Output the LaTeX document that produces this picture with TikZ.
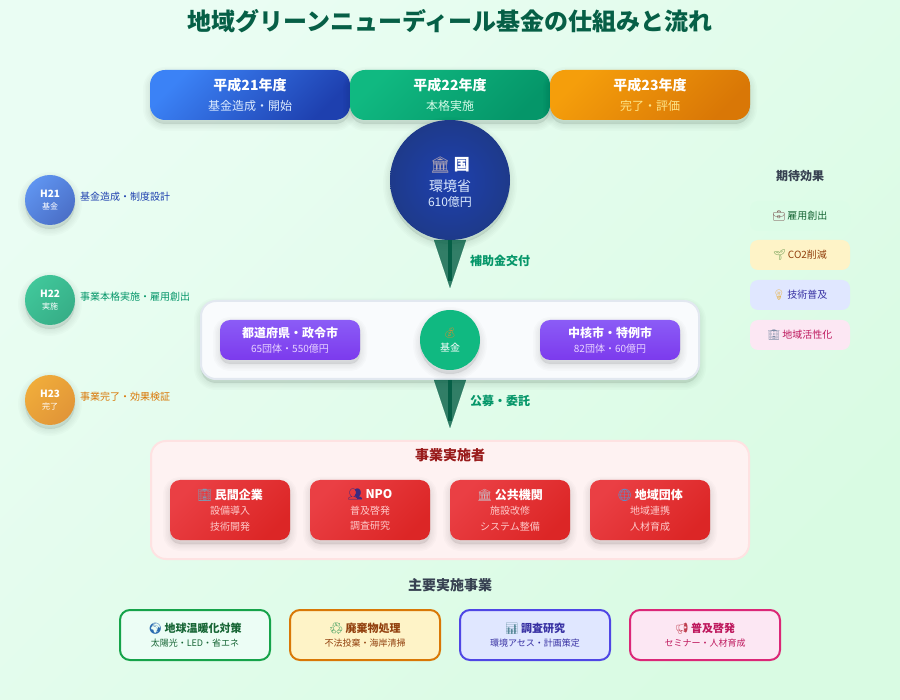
\documentclass[tikz,border=0pt]{standalone}
\usepackage{fontspec}
\usepackage{xcolor}
\usepackage{tikz}
\usetikzlibrary{positioning}
\usetikzlibrary{calc,arrows.meta}

\setmainfont{Noto Sans CJK JP}
\newfontfamily\emojifont{Noto Emoji}
\newcommand{\pxfont}[2]{\fontsize{#1}{#2}\selectfont}
\newcommand{\icon}[2]{{\emojifont\textcolor[HTML]{#1}{#2}}}

\definecolor{bgStart}{HTML}{EAFDF3}
\definecolor{bgEnd}{HTML}{D9FBE3}
\definecolor{titleGreen}{HTML}{065F46}
\definecolor{flowGreen}{HTML}{059669}
\definecolor{headGray}{HTML}{374151}
\definecolor{yearBlueA}{HTML}{3B82F6}
\definecolor{yearBlueB}{HTML}{1E40AF}
\definecolor{yearGreenA}{HTML}{10B981}
\definecolor{yearGreenB}{HTML}{059669}
\definecolor{yearOrangeA}{HTML}{F59E0B}
\definecolor{yearOrangeB}{HTML}{D97706}
\definecolor{kuniInner}{HTML}{1E40AF}
\definecolor{kuniOuter}{HTML}{1E3A8A}
\definecolor{panelEdge}{HTML}{E2E8F0}
\definecolor{panelFill}{HTML}{F9FBFD}
\definecolor{fundGreen}{HTML}{10B981}
\definecolor{cityTop}{HTML}{8B5CF6}
\definecolor{cityBottom}{HTML}{7C3AED}
\definecolor{actorLeft}{HTML}{EA3F44}
\definecolor{actorRight}{HTML}{DC2626}
\definecolor{actorText}{HTML}{FECACA}
\definecolor{actorEdge}{HTML}{FEE2E2}
\definecolor{actorPanel}{HTML}{FEF2F2}
\definecolor{actorTitle}{HTML}{991B1B}
\definecolor{greenEdge}{HTML}{16A34A}
\definecolor{cardGreen}{HTML}{ECFDF5}
\definecolor{cardGreenText}{HTML}{166534}
\definecolor{amberEdge}{HTML}{D97706}
\definecolor{cardAmber}{HTML}{FEF3C7}
\definecolor{cardAmberText}{HTML}{92400E}
\definecolor{indigoEdge}{HTML}{4F46E5}
\definecolor{cardIndigo}{HTML}{E0E7FF}
\definecolor{cardIndigoText}{HTML}{3730A3}
\definecolor{pinkEdge}{HTML}{DB2777}
\definecolor{cardPink}{HTML}{FCE7F3}
\definecolor{cardPinkText}{HTML}{BE185D}
\definecolor{effectGreen}{HTML}{DCFCE7}
\definecolor{dotBlueA}{HTML}{5F94F0}
\definecolor{dotBlueB}{HTML}{4B6FC7}
\definecolor{dotGreenA}{HTML}{40C79A}
\definecolor{dotGreenB}{HTML}{37AE87}
\definecolor{dotOrangeA}{HTML}{F0AC3A}
\definecolor{dotOrangeB}{HTML}{E19538}

\begin{document}
\begin{tikzpicture}[x=1pt,y=-1pt]
    % Define the styles
    \tikzset{shadowlayer/.style={preaction={draw=black, fill=black, opacity=0.015, line width=#1, transform canvas={yshift=-4pt}}}}
    \tikzset{softshadow/.style={shadowlayer=14pt, shadowlayer=11pt, shadowlayer=8pt, shadowlayer=5pt, shadowlayer=2pt}}
    \tikzset{yearbox/.style={softshadow, rounded corners=15pt, minimum width=200pt, minimum height=50pt, inner sep=0pt, align=center, text=white, font=\pxfont{12}{20}}}
    \tikzset{sidedot/.style={circle, softshadow, minimum size=50pt, inner sep=0pt, align=center, text=white, font=\pxfont{8}{12}}}
    \tikzset{sidetext/.style={anchor=west, inner sep=0pt, font=\pxfont{10}{12}}}
    \tikzset{cityboxstyle/.style={softshadow, rounded corners=10pt, minimum width=140pt, minimum height=40pt, inner sep=0pt, align=center, top color=cityTop, bottom color=cityBottom, text=white, font=\pxfont{10}{15}, execute at begin node={\rule{0pt}{15.5pt}}}}
    \tikzset{actorbox/.style={softshadow, rounded corners=10pt, minimum width=120pt, minimum height=60pt, inner sep=0pt, align=center, left color=actorLeft, right color=actorRight, shading angle=45, text=actorText, font=\pxfont{10}{15.5}}}
    \tikzset{workcard/.style={rounded corners=10pt, line width=2pt, minimum width=150pt, minimum height=50pt, inner sep=0pt, align=center, font=\pxfont{9}{14}}}
    \tikzset{effectbox/.style={rounded corners=8pt, minimum width=100pt, minimum height=30pt, inner sep=0pt, font=\pxfont{10}{12}}}
    \tikzset{flowtip/.style={-{Triangle[length=48pt, width=32pt]}, line width=0.1pt, draw=titleGreen, fill=titleGreen, opacity=0.8}}
    \tikzset{flowstem/.style={line width=4pt, draw=titleGreen, shorten >=7pt}}
    \tikzset{flowtext/.style={anchor=west, inner sep=0pt, text=flowGreen, font=\pxfont{12}{14}\bfseries}}
    \tikzset{headtext/.style={inner sep=0pt, text=headGray, font=\bfseries}}

    % Draw the background
    \shade[left color=bgStart, right color=bgEnd, shading angle=45] (0,0) rectangle (900,700);

    % Draw the title
    \node[inner sep=0pt, text=titleGreen, font=\pxfont{24}{28}\bfseries] (title) at (450,21) {地域グリーンニューディール基金の仕組みと流れ};

    % Draw the fiscal years
    \node[yearbox, left color=yearBlueA, right color=yearBlueB, shading angle=45] (h21year) at (250,95) {{\pxfont{14}{20}\bfseries 平成21年度}\\\textcolor[HTML]{DBEAFE}{基金造成・開始}};
    \node[yearbox, left color=yearGreenA, right color=yearGreenB, shading angle=45] (h22year) at (450,95) {{\pxfont{14}{20}\bfseries 平成22年度}\\\textcolor[HTML]{D1FAE5}{本格実施}};
    \node[yearbox, left color=yearOrangeA, right color=yearOrangeB, shading angle=45] (h23year) at (650,95) {{\pxfont{14}{20}\bfseries 平成23年度}\\\textcolor[HTML]{FDE68A}{完了・評価}};

    % Draw the ministry
    \node[circle, softshadow, minimum size=120pt, inner sep=0pt, inner color=kuniInner, outer color=kuniOuter] (kuni) at (450,180) {};
    \node[inner sep=0pt, align=center, text=white, font=\pxfont{12}{15}] (kunitext) at (450,182)
        {{\pxfont{16}{15}\bfseries\icon{B5A9B5}{🏛} 国}\\[6pt]{\pxfont{14}{15}\textcolor[HTML]{DBEAFE}{環境省}}\\\textcolor[HTML]{DBEAFE}{610億円}};

    % Draw the fund panel
    \node[softshadow, rounded corners=15pt, draw=panelEdge, line width=2pt, fill=panelFill, minimum width=498pt, minimum height=78pt, inner sep=0pt] (fundpanel) at (450,340) {};
    \node[cityboxstyle] (prefbox) at (290,340) {{\pxfont{12}{15}\bfseries 都道府県・政令市}\\\textcolor[HTML]{E9D5FF}{65団体・550億円}};
    \node[cityboxstyle] (citybox) at (610,340) {{\pxfont{12}{15}\bfseries 中核市・特例市}\\\textcolor[HTML]{E9D5FF}{82団体・60億円}};
    \node[circle, softshadow, minimum size=60pt, inner sep=0pt, align=center, fill=fundGreen, text=white, font=\pxfont{10}{15}] (fund) at (450,340) {\icon{E08A2E}{💰}\\基金};

    % Draw the flow arrows
    \coordinate (subsidyEnd) at (450,288);
    \coordinate (tenderEnd) at (450,428);
    \draw[flowtip] (kuni.south) -- (subsidyEnd);
    \draw[flowstem] (kuni.south) -- (subsidyEnd);
    \node[flowtext] (subsidylabel) at (470,261) {補助金交付};
    \draw[flowtip] (fundpanel.south) -- (tenderEnd);
    \draw[flowstem] (fundpanel.south) -- (tenderEnd);
    \node[flowtext] (tenderlabel) at (470,401) {公募・委託};

    % Draw the implementers
    \node[rounded corners=15pt, draw=actorEdge, line width=2pt, fill=actorPanel, minimum width=598pt, minimum height=118pt, inner sep=0pt] (actorpanel) at (450,500) {};
    \node[inner sep=0pt, text=actorTitle, font=\pxfont{14}{16}\bfseries] (actortitle) at (450,455) {事業実施者};
    \node[actorbox] (company) at (230,510) {{\pxfont{12}{15.5}\bfseries\textcolor{white}{\icon{7C9CB5}{🏢} 民間企業}}\\設備導入\\技術開発};
    \node[actorbox] (npo) at (370,510) {{\pxfont{12}{15.5}\bfseries\textcolor{white}{\icon{3B2A80}{👥} NPO}}\\普及啓発\\調査研究};
    \node[actorbox] (public) at (510,510) {{\pxfont{12}{15.5}\bfseries\textcolor{white}{\icon{C8BCC4}{🏛} 公共機関}}\\施設改修\\システム整備};
    \node[actorbox] (local) at (650,510) {{\pxfont{12}{15.5}\bfseries\textcolor{white}{\icon{4A9AE0}{🌐} 地域団体}}\\地域連携\\人材育成};

    % Draw the main projects
    \node[headtext, font=\pxfont{14}{16}\bfseries] (worktitle) at (450,585) {主要実施事業};
    \node[workcard, draw=greenEdge, fill=cardGreen, text=cardGreenText] (warming) at (195,635) {{\pxfont{11}{14}\bfseries\icon{2B6CB0}{🌍} 地球温暖化対策}\\太陽光・LED・省エネ};
    \node[workcard, draw=amberEdge, fill=cardAmber, text=cardAmberText] (waste) at (365,635) {{\pxfont{11}{14}\bfseries\icon{3A9A5A}{♻} 廃棄物処理}\\不法投棄・海岸清掃};
    \node[workcard, draw=indigoEdge, fill=cardIndigo, text=cardIndigoText] (survey) at (535,635) {{\pxfont{11}{14}\bfseries\icon{5A8A9A}{📊} 調査研究}\\環境アセス・計画策定};
    \node[workcard, draw=pinkEdge, fill=cardPink, text=cardPinkText] (outreach) at (705,635) {{\pxfont{11}{14}\bfseries\icon{C04050}{📢} 普及啓発}\\セミナー・人材育成};

    % Draw the timeline on the left
    \node[sidedot, left color=dotBlueA, right color=dotBlueB, shading angle=45] (h21dot) at (50,200) {{\pxfont{10}{12}\bfseries H21}\\基金};
    \node[sidedot, left color=dotGreenA, right color=dotGreenB, shading angle=45] (h22dot) at (50,300) {{\pxfont{10}{12}\bfseries H22}\\実施};
    \node[sidedot, left color=dotOrangeA, right color=dotOrangeB, shading angle=45] (h23dot) at (50,400) {{\pxfont{10}{12}\bfseries H23}\\完了};
    \node[sidetext, text=yearBlueB] (h21text) at (80,197) {基金造成・制度設計};
    \node[sidetext, text=flowGreen] (h22text) at (80,297) {事業本格実施・雇用創出};
    \node[sidetext, text=amberEdge] (h23text) at (80,397) {事業完了・効果検証};

    % Draw the expected effects on the right
    \node[headtext, font=\pxfont{12}{14}\bfseries] (effecttitle) at (800,176) {期待効果};
    \node[effectbox, fill=effectGreen, text=cardGreenText] (effectjobs) at (800,216) {\icon{6B3A3A}{💼} 雇用創出};
    \node[effectbox, fill=cardAmber, text=cardAmberText] (effectco) at (800,255) {\icon{4F8A3A}{🌱} CO2削減};
    \node[effectbox, fill=cardIndigo, text=cardIndigoText] (effecttech) at (800,295) {\icon{E8B040}{💡} 技術普及};
    \node[effectbox, fill=cardPink, text=cardPinkText] (effectlocal) at (800,335) {\icon{7C8CA5}{🏢} 地域活性化};
\end{tikzpicture}
\end{document}
